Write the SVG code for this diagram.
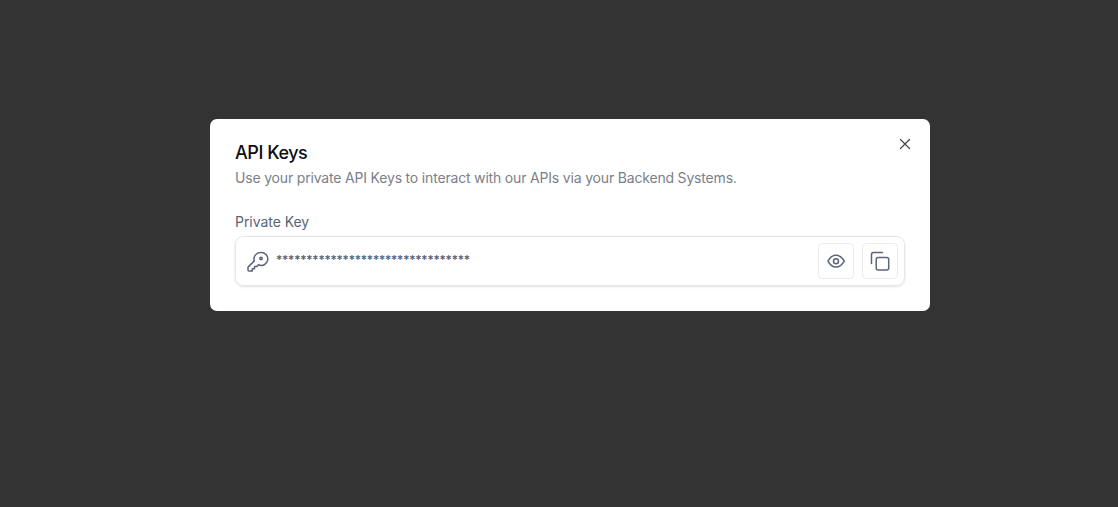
<svg xmlns="http://www.w3.org/2000/svg" width="1118" height="507" viewBox="0 0 1118 507">
<style>
text{font-family:"Inter","Liberation Sans",sans-serif}
.ic{fill:none;stroke:#5b6478;stroke-width:1.500;stroke-linecap:round;stroke-linejoin:round}
.btn{fill:#fff;stroke:#e8eaee;stroke-width:1}
</style>
<defs><filter id="s" x="-5%" y="-20%" width="110%" height="140%"><feDropShadow dx="0" dy="1" stdDeviation="1" flood-color="#101828" flood-opacity=".12"/></filter></defs>
<rect width="1118" height="507" fill="#333"/>
<g id="modal"><rect x="210" y="119" width="720" height="192" rx="7" fill="#fff"/></g>
<g id="header">
<text x="235" y="159" font-size="18" font-weight="500" fill="#0d0d12" letter-spacing="-.45">API Keys</text>
<text x="235" y="183" font-size="14" fill="#7a7f89" letter-spacing="-.18">Use your private API Keys to interact with our APIs via your Backend Systems.</text>
</g>
<g id="close"><path d="M900.500 139.500L909.500 148.500M909.500 139.500L900.500 148.500" fill="none" stroke="#3f4450" stroke-width="1.200" stroke-linecap="round"/></g>
<g id="label"><text x="235" y="227" font-size="14" fill="#5a6478" letter-spacing="-.05">Private Key</text></g>
<g id="input">
<rect x="235.500" y="236.500" width="669" height="49" rx="8" fill="#fff" stroke="#e4e6ea" filter="url(#s)"/>
<text x="276" y="264" font-size="12" font-weight="500" fill="#4f5a6e" letter-spacing="-.19">********************************</text>
</g>
<g id="key-icon"><path class="ic" transform="translate(-1 0)" d="M261.500 252.500a6.500 6.500 0 1 1-2 12.300l-1.800 1.800h-2.200v2.200h-2.200v2.200h-3.300a1 1 0 0 1-1-1v-2.400a1 1 0 0 1 .3-.7l6-6a6.500 6.500 0 0 1 6.200-8.400z"/><circle cx="261" cy="258.500" r="1.200" class="ic"/></g>
<g id="eye-button"><rect class="btn" x="818.500" y="243.500" width="35" height="35" rx="4"/>
<path class="ic" d="M828 261.200c2-3.900 5-5.900 8-5.900s6 2 8.300 5.900c-2.300 3.900-5.300 5.900-8.300 5.900s-6-2-8-5.900z"/><circle class="ic" cx="836" cy="261.200" r="2.500"/></g>
<g id="copy-button"><rect class="btn" x="862.500" y="243.500" width="35" height="35" rx="4"/>
<rect class="ic" x="876.200" y="257.500" width="12.500" height="12.500" rx="2"/><path class="ic" d="M882.500 252.500h-9a2 2 0 0 0-2 2v9"/></g>
</svg>
